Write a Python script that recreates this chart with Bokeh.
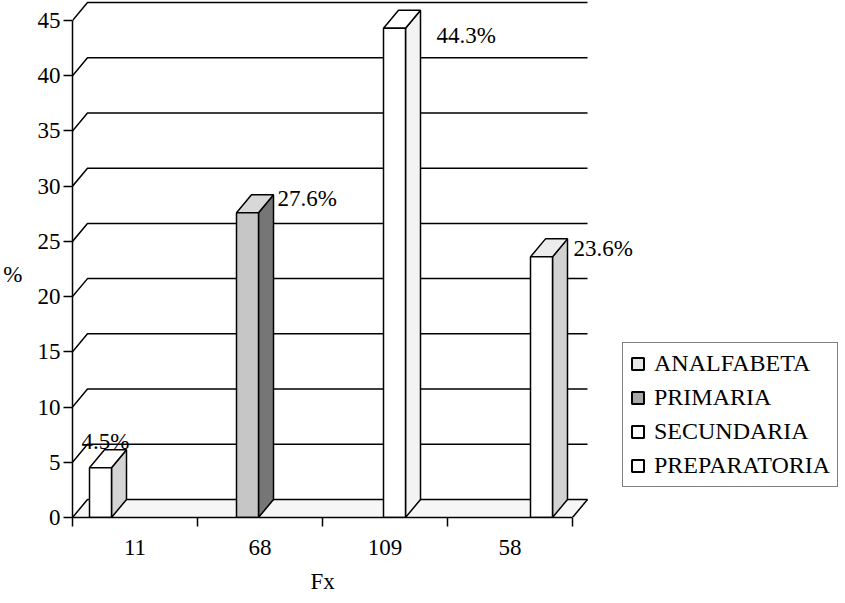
from bokeh.plotting import figure
from bokeh.models import Range1d, FixedTicker, Legend, LegendItem, ColumnDataSource, Title
from bokeh.embed import file_html
from bokeh.resources import INLINE
from bokeh.core.properties import value

# ---------------- data ----------------
categories = ["11", "68", "109", "58"]
series = ["ANALFABETA", "PRIMARIA", "SECUNDARIA", "PREPARATORIA"]
values = [4.5, 27.6, 44.3, 23.6]          # series i is the only bar in category i
labels = ["4.5%", "27.6%", "44.3%", "23.6%"]
y_ticks = [0, 5, 10, 15, 20, 25, 30, 35, 40, 45]
x_title = "Fx"
y_title = "%"

# ---------------- styles ----------------
front_colors = ["#ffffff", "#c6c6c6", "#ffffff", "#ffffff"]
side_colors = ["#d4d4d4", "#767676", "#f3f3f3", "#d2d2d2"]
top_colors = ["#ffffff", "#d8d8d8", "#ffffff", "#ececec"]
legend_colors = ["#e6e6e6", "#a8a8a8", "#ffffff", "#ffffff"]
label_dx = [-8, 41, 53, 43]     # px offsets of the value labels from the bar's top-left corner
label_dy = [-26, -14, 7, -8]
FONT_NAME = "Liberation Serif"
FONT = value(FONT_NAME)
FS = "23px"

PX_X = 125.0     # px per category
PX_Y = 11.044    # px per % unit
FRAME_W, FRAME_H = 773, 517
DX = 15 / PX_X          # depth offset (x, data units)
DY = 18 / PX_Y          # depth offset (y, data units)
GAP = 17 / PX_X         # gap before the first series slot
W = 22 / PX_X           # bar width

n = len(categories)
x0 = 0.5
x_end = x0 + FRAME_W / PX_X
p = figure(width=845, height=603, output_backend="svg", toolbar_location=None,
           x_range=Range1d(x0, x_end), y_range=Range1d(0, FRAME_H / PX_Y),
           min_border_left=72, min_border_right=0, min_border_top=0, min_border_bottom=86)
p.outline_line_color = None
p.xgrid.visible = False
p.ygrid.visible = False
p.background_fill_color = "white"

# ---------------- floor and back wall ----------------
p.patch([x0, x0 + n, x0 + n + DX, x0 + DX], [0, 0, DY, DY],
        fill_color="#f6f6f6", line_color=None)
wall_right = x0 + n + DX
gx = [[x0, x0 + DX, wall_right] for v in y_ticks]
gy = [[v, v + DY, v + DY] for v in y_ticks]
p.multi_line(gx, gy, line_color="black", line_width=1.5)
p.line([x0 + n, wall_right], [0, DY], line_color="black", line_width=1.5)

# ---------------- bars ----------------
items = []
for i, (s, v) in enumerate(zip(series, values)):
    left = x0 + i + GAP + i * W
    right = left + W
    p.patch([right, right + DX, right + DX, right], [0, DY, v + DY, v],
            fill_color=side_colors[i], line_color="black", line_width=1.5)
    p.patch([left, right, right + DX, left + DX], [v, v, v + DY, v + DY],
            fill_color=top_colors[i], line_color="black", line_width=1.5)
    p.quad(left=[left], right=[right], bottom=[0], top=[v],
           fill_color=front_colors[i], line_color="black", line_width=1.5)
    dummy = p.quad(left=[left], right=[left], bottom=[0], top=[0],
                   fill_color=legend_colors[i], line_color="black", line_width=2)
    items.append(LegendItem(label=s, renderers=[dummy]))

# ---------------- value labels ----------------
lab_src = ColumnDataSource(dict(
    x=[x0 + i + GAP + i * W for i in range(n)], y=values, text=labels,
    dx=label_dx, dy=label_dy))
p.text(x="x", y="y", text="text", x_offset="dx", y_offset="dy", source=lab_src,
       text_font=FONT, text_font_size=FS, text_color="black",
       text_align="left", text_baseline="alphabetic")

# ---------------- axes ----------------
ya = p.yaxis[0]
ya.ticker = FixedTicker(ticks=y_ticks)
ya.bounds = (0, 45)
ya.axis_line_width = 1.5
ya.major_tick_line_width = 1.5
ya.major_tick_out = 9
ya.major_tick_in = 0
ya.minor_tick_out = 0
ya.minor_tick_in = 0
ya.major_label_standoff = 3
ya.major_label_text_font = FONT_NAME
ya.major_label_text_font_size = FS
ya.major_label_text_color = "black"
ya.axis_label = "\n" + y_title      # empty first line drops the "%" slightly below centre
ya.axis_label_orientation = "horizontal"
ya.axis_label_standoff = 12
ya.axis_label_text_font = FONT_NAME
ya.axis_label_text_font_style = "normal"
ya.axis_label_text_font_size = FS
ya.axis_label_text_color = "black"

xa = p.xaxis[0]
centers = [x0 + 0.5 + i for i in range(n)]
xa.ticker = FixedTicker(ticks=centers, minor_ticks=[x0 + i for i in range(n + 1)])
xa.major_label_overrides = {int(c): lab for c, lab in zip(centers, categories)}
xa.bounds = (x0, x0 + n)
xa.axis_line_width = 1.5
xa.major_tick_out = 0
xa.major_tick_in = 0
xa.minor_tick_out = 9
xa.minor_tick_in = 0
xa.minor_tick_line_width = 1.5
xa.major_label_standoff = 13
xa.major_label_text_font = FONT_NAME
xa.major_label_text_font_size = FS
xa.major_label_text_color = "black"

# x-axis title, centred under the category axis
p.add_layout(Title(text=x_title, align="left", offset=n * PX_X / 2 - 12, standoff=18,
                   text_font=FONT_NAME, text_font_size=FS, text_font_style="normal",
                   text_color="black"), "below")

# ---------------- legend ----------------
legend = Legend(items=items, location=(550, 30),
                border_line_color="black", border_line_width=1.5,
                background_fill_color="white", background_fill_alpha=1,
                padding=7, spacing=7, margin=0,
                glyph_width=15, glyph_height=15, label_standoff=9, label_height=24,
                label_text_font=FONT_NAME, label_text_font_size="24px",
                label_text_color="black", label_text_baseline="middle")
p.add_layout(legend)

open("out.html", "w").write(file_html(p, INLINE))
